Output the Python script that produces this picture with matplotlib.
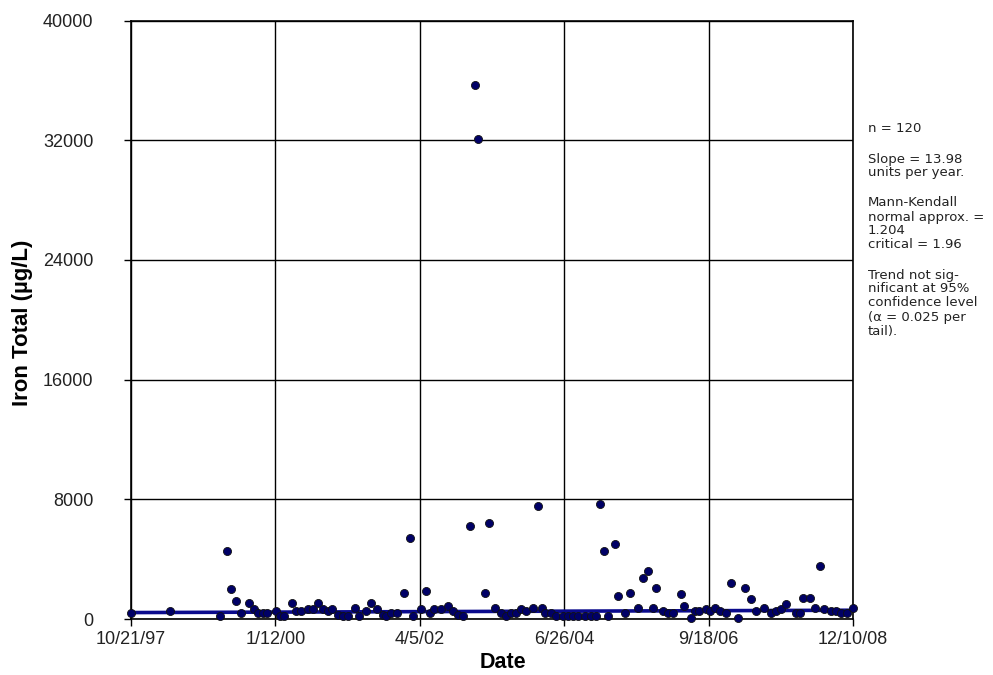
import matplotlib
matplotlib.use("Agg")
import matplotlib.pyplot as plt
import matplotlib.dates as mdates
import numpy as np
import pandas as pd

plt.rcParams['font.family'] = ['Liberation Sans', 'DejaVu Sans']

sample_dates = [
    "1997-10-21", "1998-05-29", "1999-03-08", "1999-04-14", "1999-05-05", "1999-06-03",
    "1999-07-04", "1999-08-19", "1999-09-14", "1999-10-05", "1999-11-01", "1999-11-27",
    "2000-01-18", "2000-02-10", "2000-03-01", "2000-04-17", "2000-05-09", "2000-06-07",
    "2000-07-14", "2000-08-11", "2000-09-06", "2000-10-07", "2000-11-05", "2000-11-29",
    "2001-01-01", "2001-01-25", "2001-02-22", "2001-04-07", "2001-04-27", "2001-06-04",
    "2001-07-03", "2001-08-09", "2001-09-10", "2001-09-29", "2001-10-27", "2001-11-25",
    "2002-01-07", "2002-02-07", "2002-02-27", "2002-04-13", "2002-05-11", "2002-05-30",
    "2002-06-27", "2002-08-05", "2002-09-11", "2002-10-09", "2002-11-07", "2002-12-05",
    "2003-01-12", "2003-02-09", "2003-02-26", "2003-04-05", "2003-04-29", "2003-06-01",
    "2003-07-08", "2003-08-06", "2003-09-03", "2003-10-01", "2003-10-29", "2003-11-27",
    "2004-01-03", "2004-02-01", "2004-02-20", "2004-03-08", "2004-04-15", "2004-05-13",
    "2004-06-20", "2004-07-17", "2004-08-15", "2004-09-13", "2004-10-20", "2004-11-27",
    "2004-12-21", "2005-01-14", "2005-02-07", "2005-02-28", "2005-04-07", "2005-04-25",
    "2005-06-03", "2005-07-01", "2005-08-16", "2005-09-14", "2005-10-12", "2005-11-10",
    "2005-11-28", "2006-01-05", "2006-02-02", "2006-03-01", "2006-04-17", "2006-05-05",
    "2006-06-12", "2006-07-01", "2006-07-29", "2006-09-02", "2006-09-24", "2006-10-22",
    "2006-11-20", "2006-12-27", "2007-01-25", "2007-03-02", "2007-04-09", "2007-05-16",
    "2007-06-14", "2007-07-30", "2007-09-07", "2007-10-05", "2007-11-02", "2007-12-01",
    "2008-01-26", "2008-02-14", "2008-03-03", "2008-04-10", "2008-05-08", "2008-06-06",
    "2008-06-30", "2008-08-10", "2008-09-08", "2008-10-06", "2008-11-04", "2008-12-10",
]

iron_total = [
    420, 535, 200, 4540, 1985, 1200,
    420, 1090, 650, 420, 420, 420,
    535, 200, 200, 1090, 535, 535,
    650, 650, 1090, 650, 535, 650,
    300, 200, 200, 755, 200, 535,
    1090, 650, 300, 200, 420, 420,
    1760, 5430, 200, 650, 1870, 420,
    650, 650, 870, 535, 300, 200,
    6215, 35700, 32100, 1760, 6435, 755,
    420, 200, 420, 420, 650, 535,
    755, 7550, 755, 420, 420, 200,
    200, 200, 200, 200, 200, 200,
    200, 7690, 4540, 200, 5010, 1540,
    420, 1760, 755, 2760, 3210, 755,
    2090, 535, 420, 420, 1650, 870,
    90, 535, 535, 650, 535, 755,
    535, 420, 2430, 90, 2090, 1320,
    535, 755, 420, 535, 650, 980,
    420, 420, 1420, 1420, 755, 3540,
    650, 535, 535, 420, 420, 755,
]

y_ticks = [0, 8000, 16000, 24000, 32000, 40000]
x_tick_labels = ["10/21/97", "1/12/00", "4/5/02", "6/26/04", "9/18/06", "12/10/08"]

trend_start = 430.0
slope_per_year = 13.98

notes = [
    ("n = 120", 128),
    ("Slope = 13.98", 159),
    ("units per year.", 173),
    ("Mann-Kendall", 203),
    ("normal approx. =", 217),
    ("1.204", 231),
    ("critical = 1.96", 245),
    ("Trend not sig-", 275),
    ("nificant at 95%", 289),
    ("confidence level", 303),
    ("(\u03b1 = 0.025 per", 317),
    ("tail).", 331),
]

W, H = 993, 675
fig = plt.figure(figsize=(W / 100, H / 100), dpi=100)
ax = fig.add_axes([131 / W, (H - 619) / H, (853 - 131) / W, (619 - 20.5) / H])

dates = pd.to_datetime(sample_dates)
tick_dates = pd.to_datetime(x_tick_labels, format="%m/%d/%y")

# trend line
t0, t1 = dates[0], dates[-1]
yrs = (t1 - t0).days / 365.25
ax.plot([t0, t1], [trend_start, trend_start + slope_per_year * yrs],
        color="#0a0a8c", lw=2.6, zorder=3, solid_capstyle="butt")

ax.plot(dates, iron_total, linestyle="none", marker="o", markersize=5.8,
        markerfacecolor="#000066", markeredgecolor="#111111", markeredgewidth=0.6,
        zorder=4, clip_on=False)

ax.set_xlim(t0, t1)
ax.set_ylim(0, 40000)
ax.set_yticks(y_ticks)
ax.set_yticklabels([str(v) for v in y_ticks])
ax.set_xticks(tick_dates)
ax.set_xticklabels(x_tick_labels)

ax.grid(True, color="black", lw=1.0)
ax.set_axisbelow(True)
for s in ax.spines.values():
    s.set_color("black")
    s.set_linewidth(1.2)
ax.tick_params(axis="both", direction="out", length=5, width=1, color="black",
               labelsize=13, labelcolor="#222222")
ax.tick_params(axis="y", pad=22)
ax.tick_params(axis="x", pad=4)

fig.text(503 / W, 1 - 662 / H, "Date", ha="center", va="center",
         fontsize=15.5, fontweight="bold")
fig.text(23 / W, 1 - 323 / H, "Iron Total (\u00b5g/L)", ha="center", va="center",
         rotation=90, fontsize=16, fontweight="bold")

for txt, ypix in notes:
    fig.text(868 / W, 1 - ypix / H, txt, ha="left", va="center",
             fontsize=9.5, color="#222222", family="DejaVu Sans")

fig.savefig("out.png", dpi=100)
